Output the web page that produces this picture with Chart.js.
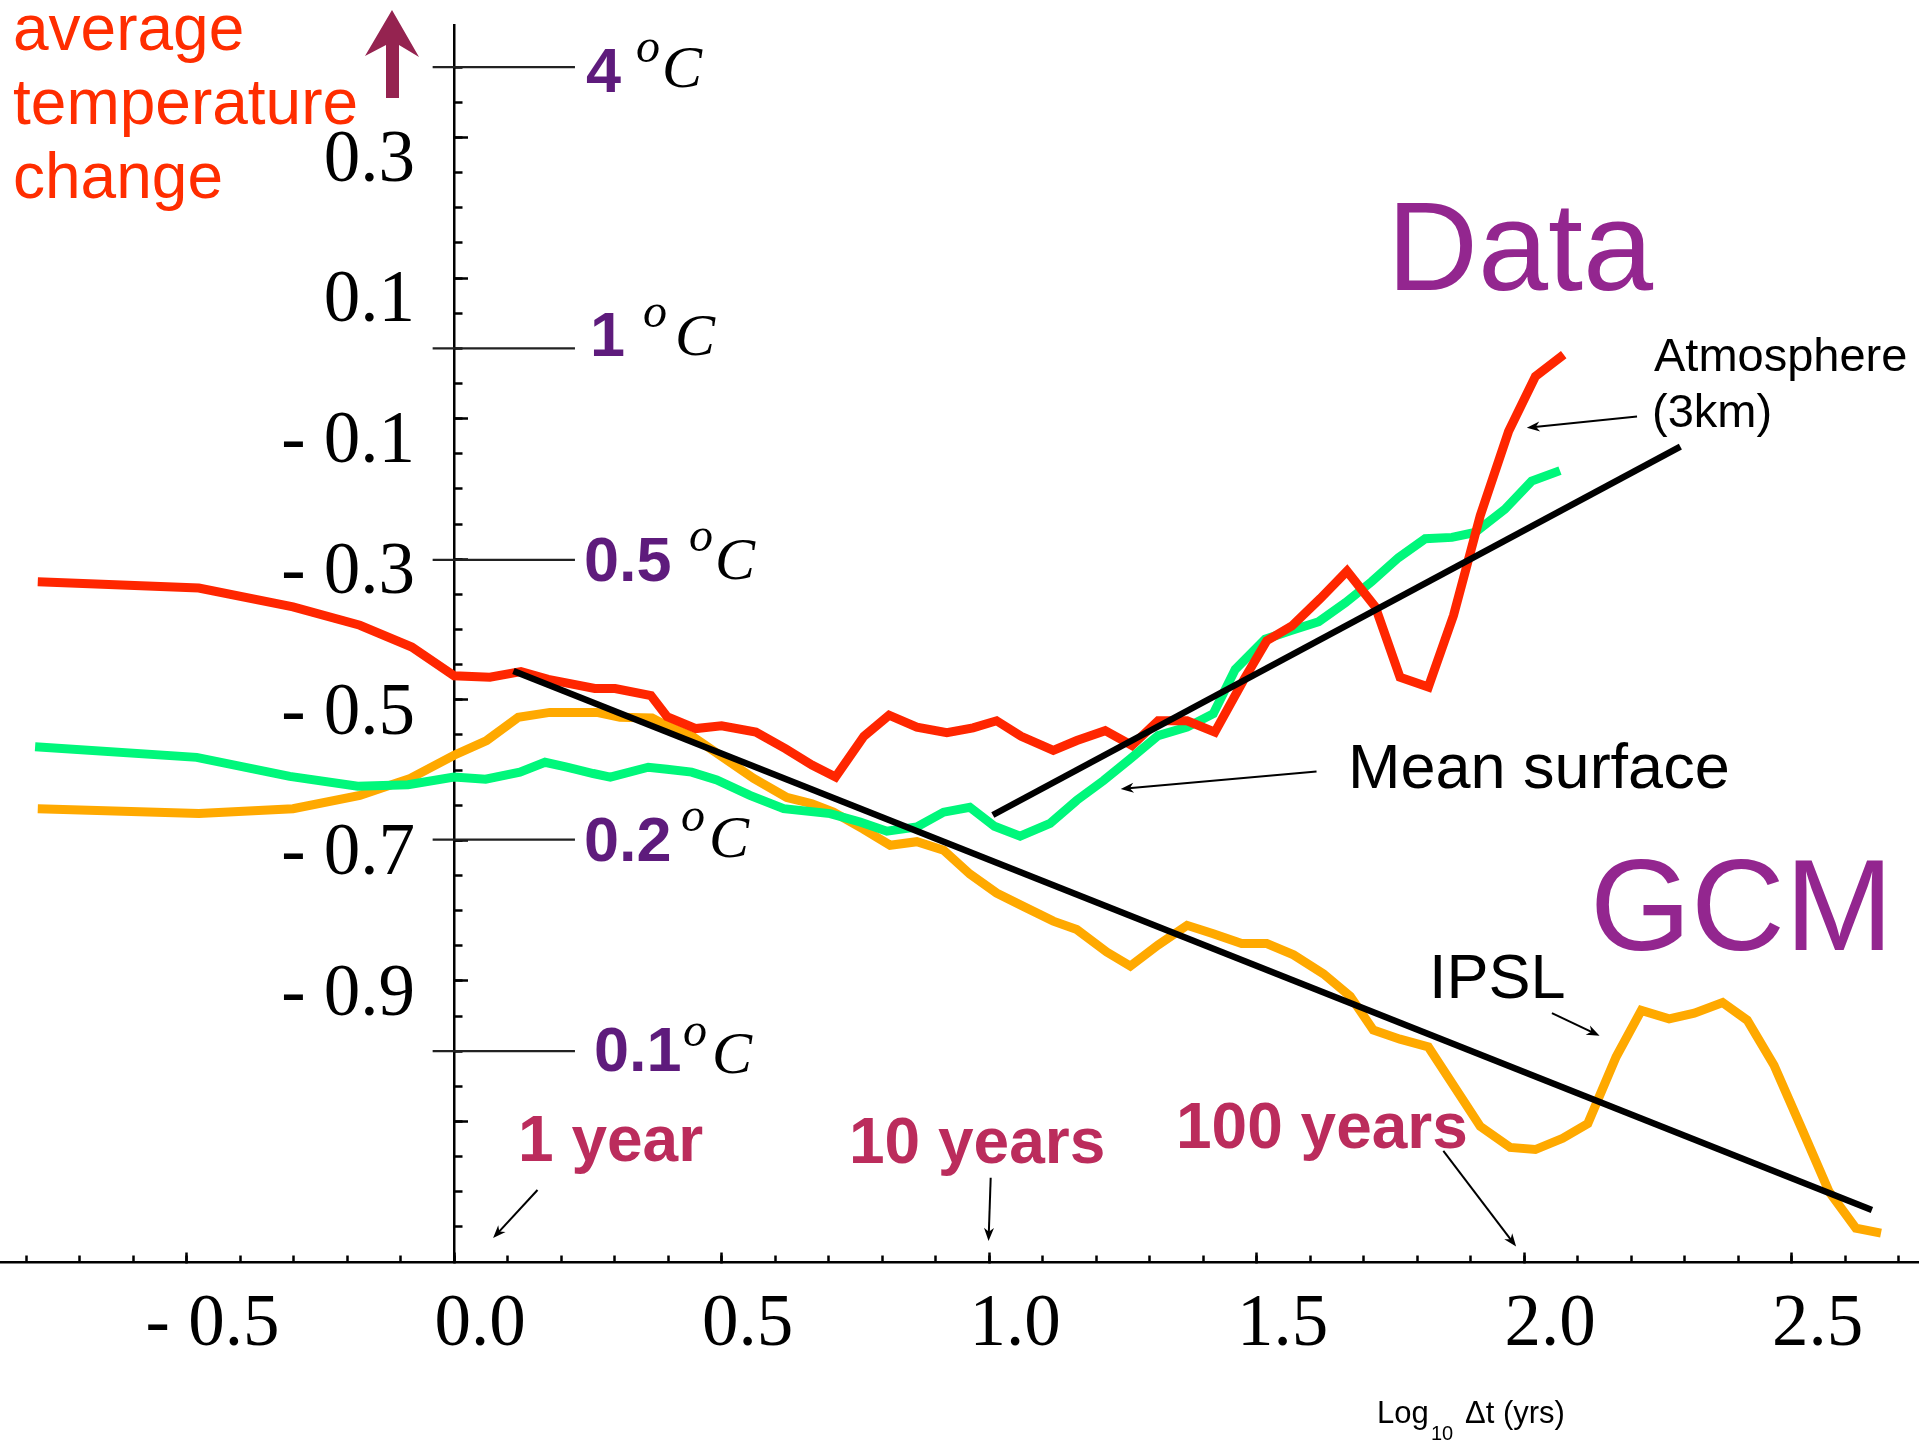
<!DOCTYPE html>
<html>
<head>
<meta charset="utf-8">
<title>Average temperature change vs time scale</title>
<script src="https://cdn.jsdelivr.net/npm/chart.js@4.4.1/dist/chart.umd.min.js"></script>
<style>
  html, body { margin: 0; padding: 0; background: #fff; }
  #wrap { position: relative; width: 1919px; height: 1443px; }
</style>
</head>
<body>
<div id="wrap"><canvas id="chart"></canvas></div>
<script>
// log10 of the time lag (years) and the log10 of the temperature fluctuation

// Atmosphere (3km) data - red
const atmosX = [-0.778, -0.477, -0.301, -0.176, -0.079, 0.0, 0.067, 0.125, 0.176, 0.263, 0.301, 0.368, 0.398, 0.452, 0.500, 0.564, 0.620, 0.669, 0.713, 0.766, 0.813, 0.865, 0.921, 0.970, 1.014, 1.060, 1.120, 1.164, 1.217, 1.267, 1.316, 1.370, 1.422, 1.475, 1.519, 1.566, 1.619, 1.669, 1.722, 1.768, 1.821, 1.868, 1.918, 1.971, 2.021, 2.074];
const atmosY = [-0.332, -0.341, -0.368, -0.394, -0.425, -0.466, -0.468, -0.460, -0.471, -0.484, -0.484, -0.494, -0.524, -0.541, -0.537, -0.546, -0.570, -0.593, -0.610, -0.552, -0.522, -0.539, -0.547, -0.540, -0.530, -0.552, -0.572, -0.558, -0.544, -0.565, -0.530, -0.530, -0.546, -0.473, -0.416, -0.395, -0.356, -0.317, -0.368, -0.468, -0.482, -0.380, -0.238, -0.118, -0.040, -0.009];

// Mean surface data - green
const surfaceX = [-0.783, -0.481, -0.307, -0.180, -0.086, 0.0, 0.059, 0.123, 0.170, 0.211, 0.260, 0.292, 0.363, 0.398, 0.444, 0.491, 0.553, 0.616, 0.703, 0.759, 0.809, 0.865, 0.915, 0.964, 1.010, 1.058, 1.114, 1.164, 1.214, 1.264, 1.316, 1.370, 1.419, 1.460, 1.516, 1.563, 1.616, 1.666, 1.715, 1.765, 1.815, 1.865, 1.908, 1.964, 2.014, 2.067];
const surfaceY = [-0.567, -0.582, -0.609, -0.623, -0.621, -0.610, -0.613, -0.603, -0.589, -0.596, -0.605, -0.610, -0.596, -0.599, -0.603, -0.614, -0.636, -0.655, -0.662, -0.674, -0.687, -0.681, -0.660, -0.653, -0.680, -0.694, -0.676, -0.643, -0.615, -0.584, -0.551, -0.539, -0.520, -0.457, -0.414, -0.402, -0.389, -0.362, -0.332, -0.298, -0.271, -0.269, -0.262, -0.229, -0.189, -0.174];

// IPSL GCM - orange
const gcmX = [-0.778, -0.477, -0.301, -0.176, -0.082, 0.0, 0.061, 0.120, 0.179, 0.267, 0.310, 0.370, 0.398, 0.447, 0.497, 0.560, 0.622, 0.669, 0.709, 0.765, 0.815, 0.865, 0.915, 0.964, 1.014, 1.064, 1.120, 1.164, 1.220, 1.264, 1.316, 1.370, 1.419, 1.472, 1.519, 1.569, 1.625, 1.675, 1.718, 1.768, 1.821, 1.918, 1.974, 2.021, 2.072, 2.119, 2.172, 2.219, 2.271, 2.318, 2.371, 2.417, 2.467, 2.517, 2.570, 2.620, 2.667];
const gcmY = [-0.655, -0.662, -0.655, -0.636, -0.612, -0.579, -0.558, -0.525, -0.518, -0.518, -0.525, -0.526, -0.537, -0.553, -0.579, -0.612, -0.639, -0.648, -0.660, -0.684, -0.707, -0.702, -0.714, -0.748, -0.775, -0.794, -0.815, -0.827, -0.859, -0.879, -0.849, -0.821, -0.833, -0.847, -0.847, -0.863, -0.890, -0.922, -0.970, -0.983, -0.994, -1.107, -1.137, -1.140, -1.124, -1.103, -1.008, -0.942, -0.954, -0.946, -0.931, -0.956, -1.020, -1.107, -1.200, -1.252, -1.259];

// straight fit lines (black)
const fitDownX = [0.111, 2.650];
const fitDownY = [-0.459, -1.226];
const fitUpX = [1.007, 2.292];
const fitUpY = [-0.664, -0.140];

// degree C reference marks next to the vertical axis
const celsiusText = ['4', '1', '0.5', '0.2', '0.1'];
const celsiusY = [0.4, 0, -0.301, -0.699, -1.0];
const celsiusLineX = [-0.04, 0.226];

// axis ticks
const xTickValues = [-0.5, 0, 0.5, 1, 1.5, 2, 2.5];
const xTickLabels = ['- 0.5', '0.0', '0.5', '1.0', '1.5', '2.0', '2.5'];
const yTickValues = [0.3, 0.1, -0.1, -0.3, -0.5, -0.7, -0.9, -1.1];
const yTickLabels = ['0.3', '0.1', '- 0.1', '- 0.3', '- 0.5', '- 0.7', '- 0.9', ''];

const X_MIN = -0.8486, X_MAX = 2.738;
const Y_MIN = -1.3, Y_MAX = 0.46;

// minor tick positions (every 0.1 in x, every 0.05 in y)
const xMinorTicks = [];
for (let i = -8; i <= 27; i++) xMinorTicks.push(i / 10);
const yMinorTicks = [];
for (let i = -25; i <= 8; i++) yMinorTicks.push(i / 20);

// the upper y labels sit a little lower under their ticks than the others
const yUpperValues = yTickValues.slice(0, 3), yUpperLabels = yTickLabels.slice(0, 3);
const yLowerValues = yTickValues.slice(3), yLowerLabels = yTickLabels.slice(3);

function pts(xs, ys) {
    return xs.map((x, i) => ({ x: x, y: ys[i] }));
}

function fixedTicks(values) {
    return function (scale) {
        scale.ticks = values.map(v => ({ value: v }));
    };
}

// scales placed with an object position take no room, but keep their label padding: drop it
function noPadding(scale) {
    scale.paddingLeft = 0;
    scale.paddingRight = 0;
    scale.paddingTop = 0;
    scale.paddingBottom = 0;
}

const serifTicks = { family: '"Liberation Serif", "Times New Roman", serif', size: 73 };

function tickScale(axis, pos, min, max, values, tickLength, showBorder) {
    return {
        type: 'linear',
        axis: axis,
        position: pos,
        min: min,
        max: max,
        afterBuildTicks: fixedTicks(values),
        afterFit: noPadding,
        grid: {
            display: true,
            drawOnChartArea: false,
            drawTicks: true,
            tickLength: tickLength,
            tickWidth: 2.5,
            tickColor: '#000'
        },
        border: { display: showBorder, color: '#000', width: 2.5 },
        ticks: { display: false }
    };
}

function labelScale(axis, pos, min, max, values, labels, offset) {
    return {
        type: 'linear',
        axis: axis,
        position: pos,
        min: min,
        max: max,
        afterBuildTicks: fixedTicks(values),
        afterFit: noPadding,
        grid: { display: false, drawTicks: false },
        border: { display: false },
        ticks: {
            display: true,
            autoSkip: false,
            maxRotation: 0,
            minRotation: 0,
            padding: 0,
            labelOffset: offset,
            color: '#000',
            font: serifTicks,
            callback: (v, i) => labels[i]
        }
    };
}

const datasets = [
    {
        label: 'fit (GCM)', data: pts(fitDownX, fitDownY),
        borderColor: '#000', borderWidth: 6.5, order: 0
    },
    {
        label: 'fit (data)', data: pts(fitUpX, fitUpY),
        borderColor: '#000', borderWidth: 6.5, order: 0
    },
    {
        label: 'Atmosphere (3km)', data: pts(atmosX, atmosY),
        borderColor: '#ff2600', borderWidth: 9, order: 1
    },
    {
        label: 'Mean surface', data: pts(surfaceX, surfaceY),
        borderColor: '#00f77b', borderWidth: 9, order: 2
    },
    {
        label: 'IPSL', data: pts(gcmX, gcmY),
        borderColor: '#ffa900', borderWidth: 9, order: 3
    }
];

celsiusY.forEach((v, i) => {
    datasets.push({
        label: celsiusText[i] + ' C', data: pts(celsiusLineX, [v, v]),
        borderColor: '#222', borderWidth: 2.2, order: 4
    });
});

function pointer(ctx, x1, y1, x2, y2) {
    const a = Math.atan2(y2 - y1, x2 - x1);
    const head = 13, half = 5;
    const c = Math.cos(a), s = Math.sin(a);
    ctx.strokeStyle = '#000';
    ctx.fillStyle = '#000';
    ctx.lineWidth = 2;
    ctx.beginPath();
    ctx.moveTo(x1, y1);
    ctx.lineTo(x2 - c * head * 0.6, y2 - s * head * 0.6);
    ctx.stroke();
    ctx.beginPath();
    ctx.moveTo(x2, y2);
    ctx.lineTo(x2 - head * c + half * s, y2 - head * s - half * c);
    ctx.lineTo(x2 - head * c * 0.7, y2 - head * s * 0.7);
    ctx.lineTo(x2 - head * c - half * s, y2 - head * s + half * c);
    ctx.closePath();
    ctx.fill();
}

function write(ctx, str, x, y, font, color) {
    ctx.font = font;
    ctx.fillStyle = color;
    ctx.textAlign = 'left';
    ctx.textBaseline = 'alphabetic';
    ctx.fillText(str, x, y);
}

const SANS = '"Liberation Sans", Arial, sans-serif';
const SERIF = '"Liberation Serif", "Times New Roman", serif';

// horizontal offsets (from the vertical axis) and baselines (from the mark) of the degree labels
const celsiusLayout = [
    { num: 132, o: 182, c: 208, dyNum: 25, dyO: -5, dyC: 20 },
    { num: 136, o: 189, c: 221, dyNum: 8, dyO: -21, dyC: 7 },
    { num: 130, o: 235, c: 261, dyNum: 21, dyO: -9, dyC: 19 },
    { num: 130, o: 227, c: 255, dyNum: 21, dyO: -9, dyC: 17 },
    { num: 140, o: 229, c: 258, dyNum: 20, dyO: -5, dyC: 22 }
];

const notes = {
    id: 'notes',
    afterDraw(chart) {
        const ctx = chart.ctx;
        const px = v => chart.scales.x.getPixelForValue(v);
        const py = v => chart.scales.y.getPixelForValue(v);
        const ax = px(0);
        ctx.save();

        // axis caption with its arrow
        const red = '#ff2d00';
        write(ctx, 'average', 13, 50, '64px ' + SANS, red);
        write(ctx, 'temperature', 13, 124, '64px ' + SANS, red);
        write(ctx, 'change', 13, 198, '64px ' + SANS, red);

        ctx.fillStyle = '#952350';
        ctx.beginPath();
        ctx.moveTo(392, 10);
        ctx.lineTo(419, 57);
        ctx.lineTo(399, 45);
        ctx.lineTo(399, 98);
        ctx.lineTo(386, 98);
        ctx.lineTo(386, 45);
        ctx.lineTo(365, 56);
        ctx.closePath();
        ctx.fill();

        // degree labels
        celsiusText.forEach((t, i) => {
            const L = celsiusLayout[i];
            const yy = py(celsiusY[i]);
            write(ctx, t, ax + L.num, yy + L.dyNum, 'bold 63px ' + SANS, '#5e1b7c');
            write(ctx, 'o', ax + L.o, yy + L.dyO, 'italic 48px ' + SERIF, '#000');
            write(ctx, 'C', ax + L.c, yy + L.dyC, 'italic 60px ' + SERIF, '#000');
        });

        // big titles
        write(ctx, 'Data', 1387, 290, '126px ' + SANS, '#93268f');
        write(ctx, 'GCM', 1590, 950, '130px ' + SANS, '#93268f');

        // series names
        write(ctx, 'Atmosphere', 1654, 371, '47px ' + SANS, '#000');
        write(ctx, '(3km)', 1652, 427, '47px ' + SANS, '#000');
        write(ctx, 'Mean surface', 1348, 788, '63px ' + SANS, '#000');
        write(ctx, 'IPSL', 1429, 998, '63px ' + SANS, '#000');

        // time scale markers
        const crimson = '#bb2c5c';
        write(ctx, '1 year', 518, 1161, 'bold 64px ' + SANS, crimson);
        write(ctx, '10 years', 849, 1163, 'bold 64px ' + SANS, crimson);
        write(ctx, '100 years', 1176, 1148, 'bold 64px ' + SANS, crimson);

        // pointers
        pointer(ctx, px(2.211), py(-0.097), px(2.005), py(-0.113));
        pointer(ctx, px(1.612), py(-0.602), px(1.246), py(-0.627));
        pointer(ctx, px(2.052), py(-0.946), px(2.141), py(-0.978));
        pointer(ctx, px(0.156), py(-1.1975), px(0.073), py(-1.266));
        pointer(ctx, px(1.003), py(-1.180), px(0.999), py(-1.270));
        pointer(ctx, px(1.849), py(-1.142), px(1.985), py(-1.278));

        // x axis title
        write(ctx, 'Log', 1377, 1423, '31px ' + SANS, '#000');
        write(ctx, '10', 1431, 1440, '20px ' + SANS, '#000');
        write(ctx, '\u0394t (yrs)', 1465, 1423, '31px ' + SANS, '#000');

        ctx.restore();
    }
};

const config = {
    type: 'line',
    data: { datasets: datasets },
    options: {
        responsive: true,
        maintainAspectRatio: false,
        animation: false,
        events: [],
        layout: { padding: { top: 25, bottom: 181, left: 0, right: 0 } },
        elements: {
            point: { radius: 0 },
            line: { tension: 0, fill: false, borderCapStyle: 'butt' }
        },
        plugins: {
            legend: { display: false },
            tooltip: { enabled: false },
            title: { display: false }
        },
        scales: {
            x: tickScale('x', { y: Y_MIN }, X_MIN, X_MAX, xTickValues, -11, true),
            xMinor: tickScale('x', { y: Y_MIN }, X_MIN, X_MAX, xMinorTicks, -6.5, false),
            xLabels: labelScale('x', { y: -1.3287 }, X_MIN, X_MAX, xTickValues, xTickLabels, 26),
            y: tickScale('y', { x: 0 }, Y_MIN, Y_MAX, yTickValues, -15, true),
            yMinor: tickScale('y', { x: 0 }, Y_MIN, Y_MAX, yMinorTicks, -8.5, false),
            yLabelsUpper: labelScale('y', { x: -0.073 }, Y_MIN, Y_MAX, yUpperValues, yUpperLabels, 24),
            yLabelsLower: labelScale('y', { x: -0.073 }, Y_MIN, Y_MAX, yLowerValues, yLowerLabels, 15)
        }
    },
    plugins: [notes]
};

datasets.forEach(d => { d.xAxisID = 'x'; d.yAxisID = 'y'; d.pointRadius = 0; });

new Chart(document.getElementById('chart').getContext('2d'), config);
</script>
</body>
</html>
